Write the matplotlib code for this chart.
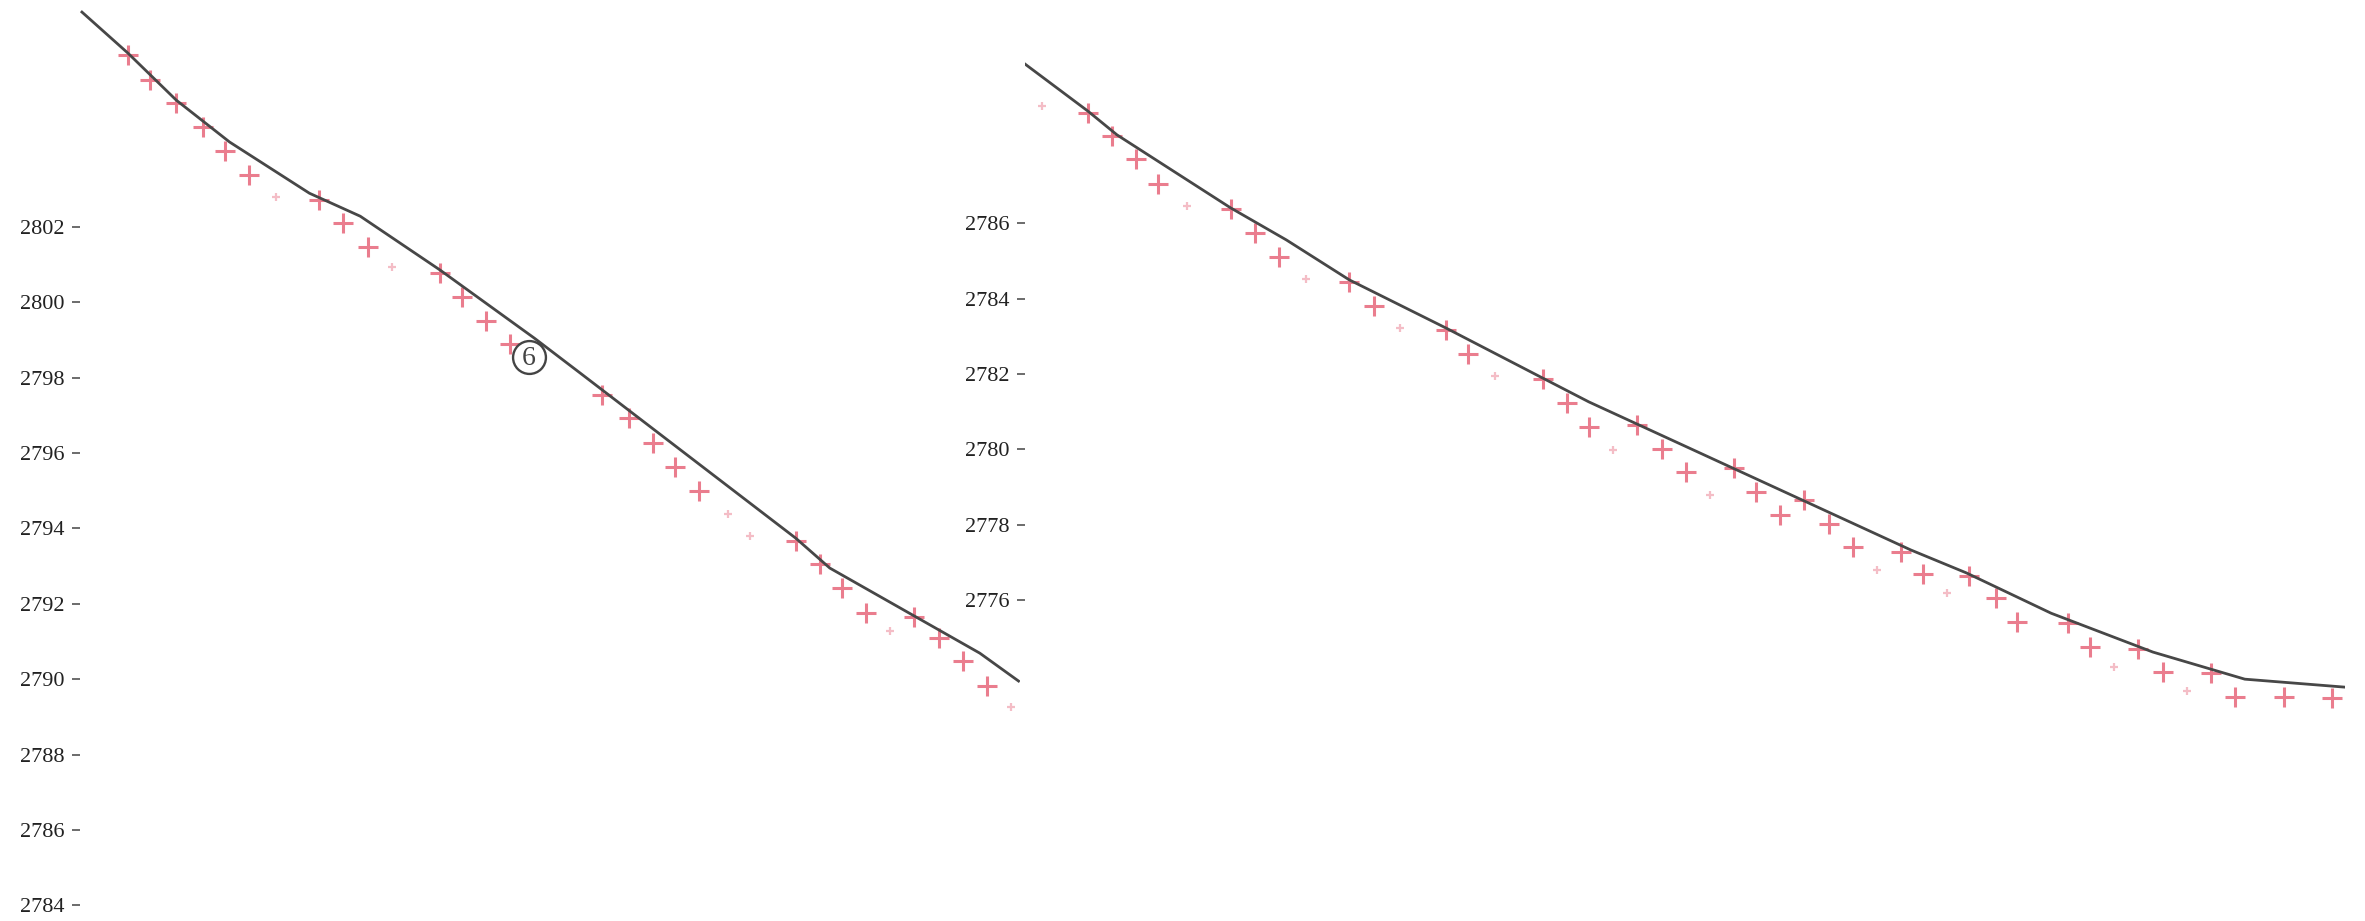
import matplotlib.pyplot as plt

#############################################################################
# Data #
# left panel: measured points (x in steps) and fitted line
left_x = [0.0, 0.9, 2.0, 3.1, 4.0, 5.0, 6.1, 7.9, 8.9, 9.9, 10.9, 12.9, 13.8, 14.8,
          15.8, 16.9, 19.6, 20.7, 21.7, 22.6, 23.6, 24.8, 25.7, 27.6, 28.6, 29.5,
          30.5, 31.5, 32.5, 33.5, 34.5, 35.5, 36.5]
left_y = [2806.57, 2805.90, 2805.29, 2804.65, 2804.02, 2803.38, 2802.80, 2802.72,
          2802.11, 2801.47, 2800.94, 2800.78, 2800.14, 2799.50, 2798.89, 2798.23,
          2797.54, 2796.93, 2796.27, 2795.63, 2794.99, 2794.38, 2793.80, 2793.66,
          2793.05, 2792.42, 2791.75, 2791.27, 2791.65, 2791.09, 2790.48, 2789.81,
          2789.26]
left_faint = [6, 10, 15, 21, 22, 27, 32]

left_line_x = [-1.9, 0.0, 2.0, 4.2, 7.5, 9.6, 12.9, 16.8, 18.7, 27.6, 29.0, 35.2, 36.8]
left_line_y = [2807.71, 2806.62, 2805.37, 2804.26, 2802.90, 2802.29, 2800.86,
               2799.05, 2798.12, 2793.74, 2792.95, 2790.69, 2789.95]

left_ticks = [2784, 2786, 2788, 2790, 2792, 2794, 2796, 2798, 2800, 2802]

# right panel
right_x = [0.0, 1.9, 2.9, 3.9, 4.8, 6.0, 7.8, 8.8, 9.8, 10.9, 12.7, 13.7, 14.8, 16.7,
           17.6, 18.7, 20.7, 21.7, 22.6, 23.6, 24.6, 25.6, 26.6, 27.6, 28.6, 29.5,
           30.5, 31.5, 32.5, 33.5, 34.5, 35.5, 36.4, 37.4, 38.3, 39.4, 40.3, 42.4,
           43.3, 44.3, 45.3, 46.3, 47.3, 48.3, 49.3, 51.3, 53.3]
right_y = [2789.12, 2788.93, 2788.32, 2787.71, 2787.04, 2786.46, 2786.38, 2785.74,
           2785.11, 2784.52, 2784.44, 2783.81, 2783.22, 2783.17, 2782.53, 2781.95,
           2781.87, 2781.23, 2780.59, 2779.98, 2780.65, 2780.01, 2779.40, 2778.79,
           2779.50, 2778.87, 2778.26, 2778.65, 2778.02, 2777.41, 2776.80, 2777.27,
           2776.69, 2776.19, 2776.64, 2776.05, 2775.42, 2775.39, 2774.75, 2774.22,
           2774.70, 2774.09, 2773.58, 2774.06, 2773.42, 2773.42, 2773.40]
right_faint = [0, 5, 9, 12, 15, 19, 23, 30, 33, 39, 42]

right_line_x = [-0.7, 1.9, 3.1, 7.8, 10.1, 12.7, 16.7, 20.7, 22.6, 35.9, 38.2, 41.7,
                45.9, 49.7, 53.8]
right_line_y = [2790.23, 2788.98, 2788.35, 2786.41, 2785.56, 2784.50, 2783.22,
                2781.89, 2781.26, 2777.33, 2776.72, 2775.65, 2774.62, 2773.90,
                2773.69]

right_ticks = [2776, 2778, 2780, 2782, 2784, 2786]

# circled label on the left curve
mark_x, mark_y, mark_text = 16.57, 2798.55, '6'

#############################################################################
# Plotting #
W, H = 2365, 921
PINK = '#ea7d8e'
GREY = '#474747'
plt.rcParams['font.family'] = ['Liberation Serif', 'DejaVu Serif']


def style(ax, ticks):
    for s in ax.spines.values():
        s.set_visible(False)
    ax.set_xticks([])
    ax.set_yticks(ticks)
    ax.set_yticklabels([str(t) for t in ticks])
    ax.tick_params(axis='y', direction='out', length=5.5, width=1.1, pad=6,
                   color='#444444', labelcolor='#222222', labelsize=16)
    ax.patch.set_alpha(0)


def draw(ax, xs, ys, faint, lx, ly):
    solid = [i for i in range(len(xs)) if i not in faint]
    ax.plot([xs[i] for i in solid], [ys[i] for i in solid], linestyle='none',
            marker='+', markersize=14, markeredgewidth=2.2, color=PINK, zorder=2)
    ax.plot([xs[i] for i in faint], [ys[i] for i in faint], linestyle='none',
            marker='+', markersize=6, markeredgewidth=1.6, color=PINK, alpha=0.5,
            zorder=2)
    ax.plot(lx, ly, color=GREY, linewidth=2.0, zorder=3)


fig = plt.figure(figsize=(W / 100, H / 100), dpi=100)

# left panel
ax1 = fig.add_axes([80 / W, 0, 940 / W, 1])
draw(ax1, left_x, left_y, left_faint, left_line_x, left_line_y)
ax1.scatter([mark_x], [mark_y], s=560, facecolors='white', edgecolors='#444444',
            linewidths=1.7, zorder=4)
ax1.text(mark_x, mark_y - 0.05, mark_text, ha='center', va='center', fontsize=20,
         color='#444444', zorder=5)
ax1.set_xlim(-1.98, 36.86)
ax1.set_ylim(2783.58, 2808.03)
style(ax1, left_ticks)

# right panel
ax2 = fig.add_axes([1025 / W, 0, 1320 / W, 1])
draw(ax2, right_x, right_y, right_faint, right_line_x, right_line_y)
ax2.set_xlim(-0.70, 53.84)
ax2.set_ylim(2767.48, 2791.93)
style(ax2, right_ticks)

fig.savefig('out.png', dpi=100, facecolor='white')
